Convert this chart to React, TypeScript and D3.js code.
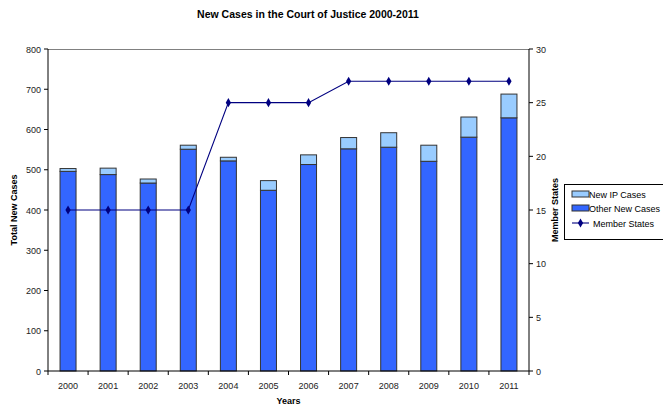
import React from "react";
import * as d3 from "d3";

const years = ["2000", "2001", "2002", "2003", "2004", "2005", "2006", "2007", "2008", "2009", "2010", "2011"];
const otherCases = [496, 488, 467, 551, 522, 449, 513, 552, 556, 521, 581, 629];
const ipCases = [7, 16, 10, 10, 9, 24, 24, 28, 36, 40, 50, 59];
const memberStates = [15, 15, 15, 15, 25, 25, 25, 27, 27, 27, 27, 27];
const leftTicks = [0, 100, 200, 300, 400, 500, 600, 700, 800];
const rightTicks = [0, 5, 10, 15, 20, 25, 30];

const W = 663;
const H = 406;
const margin = { top: 49, right: 134, bottom: 35, left: 48 };
const font = "Liberation Sans, Arial, sans-serif";

const App = () => {
  const width = W - margin.left - margin.right;
  const height = H - margin.top - margin.bottom;

  const x = d3.scaleBand().domain(years).range([0, width]);
  const yLeft = d3.scaleLinear().domain([0, 800]).range([height, 0]);
  const yRight = d3.scaleLinear().domain([0, 30]).range([height, 0]);
  const barW = 16;
  const cx = (y: string) => (x(y) || 0) + x.bandwidth() / 2;

  const line = d3
    .line<number>()
    .x((_, i) => cx(years[i]))
    .y((d) => yRight(d));

  const diamond = d3.symbol().type(d3.symbolDiamond).size(24)() || "";

  return (
    <svg width={W} height={H} style={{ position: "absolute", left: 0, top: 0 }} fontFamily={font}>
      <rect width={W} height={H} fill="white" />
      <text x={308} y={18} textAnchor="middle" fontSize={10.5} fontWeight="bold">
        New Cases in the Court of Justice 2000-2011
      </text>

      <g transform={`translate(${margin.left},${margin.top})`}>
        {/* top border */}
        <line x1={0} x2={width} y1={0.5} y2={0.5} stroke="#808080" strokeWidth={1} />

        {/* bars */}
        {years.map((y, i) => {
          const bx = cx(y) - barW / 2;
          const total = otherCases[i] + ipCases[i];
          return (
            <g key={y}>
              <rect
                x={bx}
                y={yLeft(otherCases[i])}
                width={barW}
                height={yLeft(0) - yLeft(otherCases[i])}
                fill="#3366FF"
                stroke="#333"
                strokeWidth={1}
              />
              <rect
                x={bx}
                y={yLeft(total)}
                width={barW}
                height={yLeft(otherCases[i]) - yLeft(total)}
                fill="#99CCFF"
                stroke="#333"
                strokeWidth={1}
              />
            </g>
          );
        })}

        {/* member states line */}
        <path d={line(memberStates) || ""} fill="none" stroke="#000080" strokeWidth={1.1} />
        {memberStates.map((m, i) => (
          <path key={i} d={diamond} transform={`translate(${cx(years[i])},${yRight(m)})`} fill="#000080" />
        ))}

        {/* left axis */}
        <line x1={0} x2={0} y1={0} y2={height} stroke="black" />
        {leftTicks.map((t) => (
          <g key={t} transform={`translate(0,${yLeft(t)})`}>
            <line x1={-4} x2={0} stroke="black" />
            <text x={-7} y={3.5} textAnchor="end" fontSize={9} fill="#222">
              {t}
            </text>
          </g>
        ))}

        {/* right axis */}
        <line x1={width} x2={width} y1={0} y2={height} stroke="black" />
        {rightTicks.map((t) => (
          <g key={t} transform={`translate(${width},${yRight(t)})`}>
            <line x1={0} x2={4} stroke="black" />
            <text x={7} y={3.5} textAnchor="start" fontSize={9} fill="#222">
              {t}
            </text>
          </g>
        ))}

        {/* bottom axis */}
        <line x1={0} x2={width} y1={height} y2={height} stroke="black" />
        {years.map((y) => (
          <line key={y} x1={x(y) || 0} x2={x(y) || 0} y1={height} y2={height + 4} stroke="black" />
        ))}
        <line x1={width} x2={width} y1={height} y2={height + 4} stroke="black" />
        {years.map((y) => (
          <text key={y} x={cx(y)} y={height + 18} textAnchor="middle" fontSize={9} fill="#222">
            {y}
          </text>
        ))}

        <text x={width / 2} y={height + 33} textAnchor="middle" fontSize={9} fontWeight="bold">
          Years
        </text>
        <text
          transform={`translate(-31,${height / 2}) rotate(-90)`}
          textAnchor="middle"
          fontSize={9}
          fontWeight="bold"
        >
          Total New Cases
        </text>
        <text
          transform={`translate(${width + 29},${height / 2}) rotate(-90)`}
          textAnchor="middle"
          fontSize={9}
          fontWeight="bold"
        >
          Member States
        </text>
      </g>

      {/* legend */}
      <g transform="translate(564,184)">
        <rect x={0.5} y={0.5} width={110} height={55} fill="white" stroke="black" />
        <rect x={8} y={7} width={17} height={6} fill="#99CCFF" stroke="#333" />
        <text x={25} y={13.5} fontSize={9}>New IP Cases</text>
        <rect x={8} y={21} width={17} height={6} fill="#3366FF" stroke="#333" />
        <text x={25} y={28} fontSize={9}>Other New Cases</text>
        <line x1={8} x2={25} y1={39} y2={39} stroke="#000080" strokeWidth={1.1} />
        <path d={diamond} transform="translate(16.5,39)" fill="#000080" />
        <text x={29} y={42.5} fontSize={9}>Member States</text>
      </g>
    </svg>
  );
};

export default App;
